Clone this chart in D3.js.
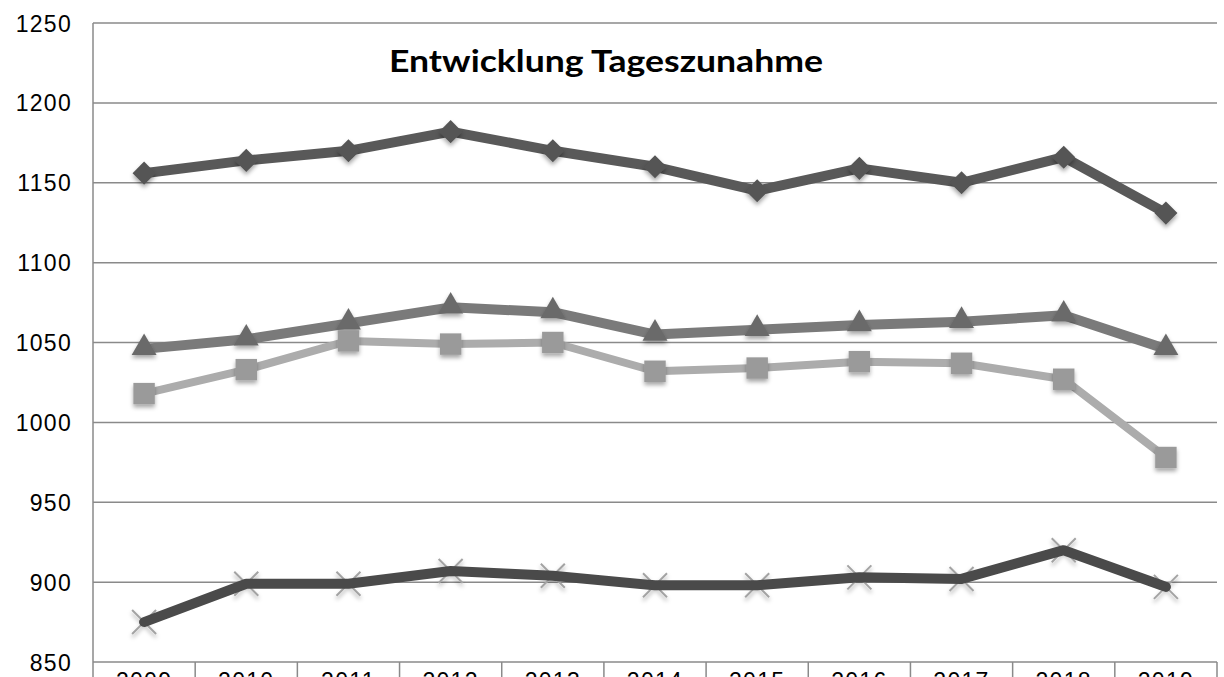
<!DOCTYPE html>
<html>
<head>
<meta charset="utf-8">
<script src="https://cdn.jsdelivr.net/npm/d3@7"></script>
<style>
  html, body { margin: 0; padding: 0; background: #fff; overflow: hidden; }
  svg { display: block; }
</style>
</head>
<body>
<svg id="chart" width="1224" height="677"></svg>
<script>
const years = ["2009","2010","2011","2012","2013","2014","2015","2016","2017","2018","2019"];
const seriesDiamond  = [1156, 1164, 1170, 1182, 1170, 1160, 1145, 1159, 1150, 1166, 1131];
const seriesTriangle = [1046, 1052, 1062, 1072, 1069, 1055, 1058, 1061, 1063, 1067, 1046];
const seriesSquare   = [1018, 1033, 1051, 1049, 1050, 1032, 1034, 1038, 1037, 1027, 978];
const seriesCross    = [875, 899, 899, 907, 904, 898, 898, 903, 902, 920, 897];
const yTicks = [850, 900, 950, 1000, 1050, 1100, 1150, 1200, 1250];
const titleText = "Entwicklung Tageszunahme";

(function () {
const svg = d3.select("#chart");
const pLeft = 93, pRight = 1217, pTop = 23, pBottom = 662;

const x = d3.scaleBand().domain(years).range([pLeft, pRight]).padding(0);
const y = d3.scaleLinear().domain([850, 1250]).range([pBottom, pTop]);

const defs = svg.append("defs");
const f = defs.append("filter").attr("id", "shadow")
  .attr("x", "-50%").attr("y", "-50%").attr("width", "200%").attr("height", "200%");
f.append("feDropShadow").attr("dx", 0).attr("dy", 3).attr("stdDeviation", 2)
  .attr("flood-color", "#000").attr("flood-opacity", 0.35);

// gridlines
svg.append("g").selectAll("line").data(yTicks).join("line")
  .attr("x1", pLeft).attr("x2", pRight)
  .attr("y1", d => y(d)).attr("y2", d => y(d))
  .attr("stroke", "#8a8a8a").attr("stroke-width", 1.5);

// y axis line
svg.append("line").attr("x1", pLeft).attr("x2", pLeft).attr("y1", pTop).attr("y2", 677)
  .attr("stroke", "#8a8a8a").attr("stroke-width", 1.5);

// category separators
const seps = years.slice(1).map(d => x(d)).concat([pRight]);
svg.append("g").selectAll("line").data(seps).join("line")
  .attr("x1", d => d).attr("x2", d => d).attr("y1", pBottom).attr("y2", 677)
  .attr("stroke", "#8a8a8a").attr("stroke-width", 1.5);

// y labels
svg.append("g").selectAll("text").data(yTicks).join("text")
  .attr("x", 72).attr("y", d => y(d) + 8.5)
  .attr("text-anchor", "end")
  .attr("font-family", "Liberation Sans, Arial, sans-serif")
  .attr("font-size", 23).attr("letter-spacing", 1.3)
  .attr("fill", "#000")
  .text(d => d);

// x labels (cut off by the bottom edge, as in the reference)
svg.append("g").selectAll("text").data(years).join("text")
  .attr("x", d => x(d) + x.bandwidth() / 2).attr("y", 689)
  .attr("text-anchor", "middle")
  .attr("font-family", "Liberation Sans, Arial, sans-serif")
  .attr("font-size", 23).attr("letter-spacing", 1.3)
  .attr("fill", "#000")
  .text(d => d);

// title
svg.append("text").attr("x", 606).attr("y", 72)
  .attr("text-anchor", "middle")
  .attr("font-family", "Lato, Open Sans, sans-serif")
  .attr("font-weight", "bold").attr("font-size", 31)
  .attr("textLength", 434).attr("lengthAdjust", "spacingAndGlyphs")
  .attr("fill", "#000")
  .text(titleText);

const cx = (d, i) => x(years[i]) + x.bandwidth() / 2;
const line = d3.line().x((d, i) => cx(d, i)).y(d => y(d));

function drawLine(data, color, width) {
  svg.append("path").datum(data).attr("d", line)
    .attr("fill", "none").attr("stroke", color).attr("stroke-width", width)
    .attr("stroke-linejoin", "round").attr("stroke-linecap", "round");
}

// Series 1: diamonds
drawLine(seriesDiamond, "#595959", 10);
svg.append("g").attr("filter", "url(#shadow)").selectAll("path").data(seriesDiamond).join("path")
  .attr("d", d3.symbol().type(d3.symbolDiamond2).size(340))
  .attr("transform", (d, i) => `translate(${cx(d, i)},${y(d)})`)
  .attr("fill", "#555555");

// Series 2: triangles
drawLine(seriesTriangle, "#7a7a7a", 10);
svg.append("g").attr("filter", "url(#shadow)").selectAll("path").data(seriesTriangle).join("path")
  .attr("d", d3.symbol().type(d3.symbolTriangle).size(270))
  .attr("transform", (d, i) => `translate(${cx(d, i)},${y(d) - 1})`)
  .attr("fill", "#6a6a6a");

// Series 3: squares
drawLine(seriesSquare, "#acacac", 8);
svg.append("g").attr("filter", "url(#shadow)").selectAll("path").data(seriesSquare).join("path")
  .attr("d", d3.symbol().type(d3.symbolSquare).size(460))
  .attr("transform", (d, i) => `translate(${cx(d, i)},${y(d)})`)
  .attr("fill", "#9a9a9a");

// Series 4: crosses (under line)
svg.append("g").attr("filter", "url(#shadow)").selectAll("path").data(seriesCross).join("path")
  .attr("d", "M-12,-12L12,12M-12,12L12,-12")
  .attr("transform", (d, i) => `translate(${cx(d, i)},${y(d)})`)
  .attr("fill", "none").attr("stroke", "#a3a3a3").attr("stroke-width", 2);
drawLine(seriesCross, "#4a4a4a", 10);
})();
</script>
</body>
</html>
